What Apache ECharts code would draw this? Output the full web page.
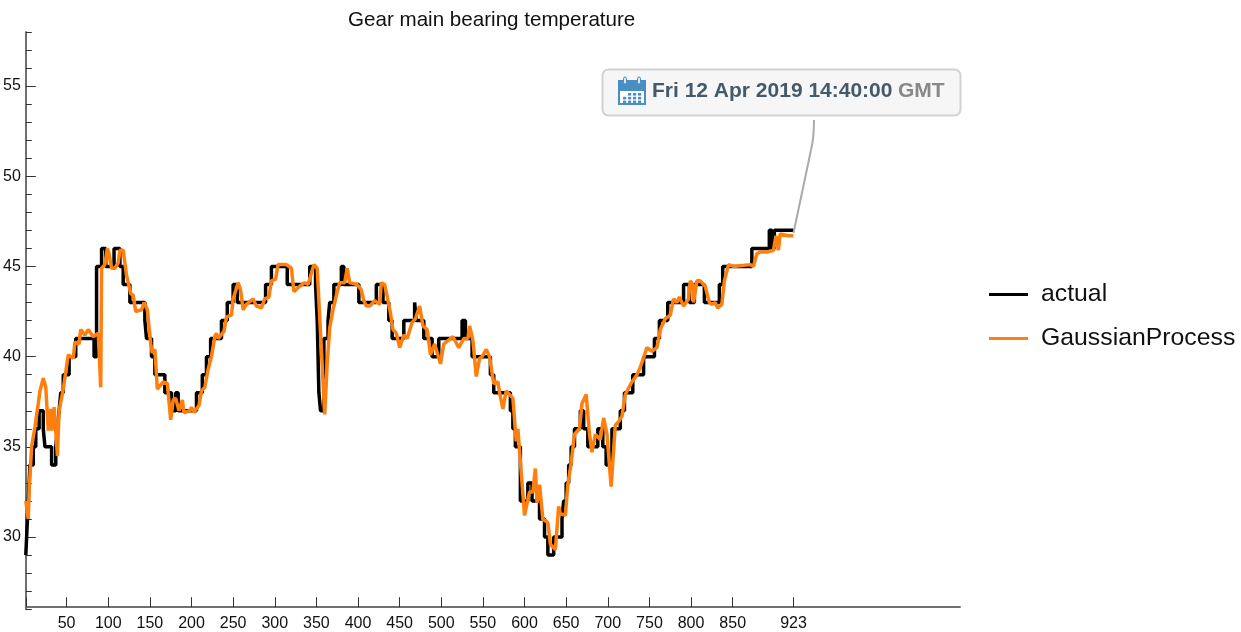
<!DOCTYPE html>
<html><head><meta charset="utf-8">
<style>html,body{margin:0;padding:0;background:#fff}#c{width:1241px;height:632px}</style>
<script src="https://cdn.jsdelivr.net/npm/echarts@6/dist/echarts.min.js"></script>
</head><body><div id="c"></div>
<script>
const chartTitle = 'Gear main bearing temperature';
const xTickValues = [50,100,150,200,250,300,350,400,450,500,550,600,650,700,750,800,850,923];
const yTickValues = [30,35,40,45,50,55];
const yMinorValues = [26,27,28,29,31,32,33,34,36,37,38,39,41,42,43,44,46,47,48,49,51,52,53,54,56,57,58];

// actual: level start positions and levels (held until the next start)
const actualX = [1,3,4,6,10,13,17,22,24,32,37,39,41,43,46,53,61,83,86,92,97,107,114,118,126,144,146,152,156,168,176,181,184,206,213,218,223,236,243,250,255,289,296,315,342,349,351,353,355,359,364,366,371,380,383,401,422,430,437,441,455,468,470,479,489,497,525,529,537,559,563,583,586,589,595,604,609,618,624,628,635,645,647,650,653,656,660,667,671,676,688,694,698,705,715,720,730,743,756,762,772,791,798,804,816,834,838,873,894,897,900,923];
const actualY = [29,31,32,34,35,36,37,36,35,34,35,36,37,38,39,40,41,40,45,46,45,46,45,44,43,42,41,40,39,38,37,38,37,38,39,40,41,42,43,44,43,44,45,44,45,44,42,38,37,41,42,43,44,45,44,43,44,43,42,41,42,43,42,41,40,41,42,41,40,39,38,37,36,35,32,33,32,31,30,29,30,31,32,33,34,35,36,37,36,35,36,35,34,36,37,38,39,40,41,42,43,44,43,44,43,44,45,46,47,46,47,47];

// GaussianProcess
const gaussianX = [1,4,5,8,12,16,18,20,22,25,28,31,32.4,35,39,41,46,52,58,60,65,67,72,76,82,88,91,92,96,99,101,104,108,112,114,118,122,127,130,133,140,143,147,151,153,156,159,166,171,175,178,181,185,189,191,198,200,203,209,212,216,220,224,228,230,232,239,242,248,250,256,259,262,266,274,278,284,288,293,296,301,304,314,320,323,330,336,340,347,351,354,360,363,366,370,374,378,384,387,390,399,404,407,410,414,420,426,428,432,436,439,442,446,450,455,459,465,469,474,478,483,487,492,499,503,511,514,521,527,532,534,538,542,546,549,554,558,563,568,570,574,578,586,590,592,600,606,610,613,615,618,622,624,628,631,637,641,643,645,649,652,656,660,666,669,674,678,681,685,691,695,699,704,709,713,717,721,729,735,739,747,753,759,763,769,775,779,783,786,791,797,799,802,803,807,811,817,822,825,829,832,837,840,845,851,871,875,879,883,891,899,902,905,907,917,923];
const gaussianY = [32,31,32.6,35,36.1,37.4,38.1,38.2,38.8,38.3,35.9,37.1,35.9,37.2,34.5,37,38.2,40.1,39.9,40.8,40.7,41.5,41.2,41.5,41.1,41.3,38.3,44.9,45.1,46,45.7,44.9,44.9,45.2,45.9,45.9,44.5,43.5,43.4,42.5,42.6,43,42.6,40.7,40.2,40.4,38.2,38.6,38.5,36.5,37.6,37.7,37,37.6,36.9,37,37.2,36.9,37.3,38.1,38.3,39.3,40,41.1,41.3,41,41.4,42.2,42.3,43.2,44.1,43.7,42.6,42.9,43.2,42.8,42.7,43.2,43.3,44.2,44.3,45.1,45.1,44.9,43.6,43.9,44.1,44,45.1,44.9,42.2,36.8,39.6,41.6,42.6,43.4,44.1,44.1,44.9,44.1,44,43.7,43.1,42.8,42.8,43.1,42.9,44.1,44,43.1,42.4,41.5,41.3,40.5,41.2,41,41.9,42.1,42.8,41.7,41.5,40.1,40.7,39.6,40.7,41,41.1,40.5,41,41,41.7,40.9,38.9,39.9,40,40.4,40,38.5,38.6,38,37.1,38.1,37.7,35.3,36,31.2,32.5,32.5,33.8,31.9,32.9,31,31,30.8,29.6,29.3,31.7,31.3,31.4,31.2,32.9,34.1,35.7,36,37.4,37.9,35.7,34.7,35.7,35.4,36.6,35.7,32.8,36.2,36.4,36.7,37.9,38.6,39,39.4,40.5,40.3,40.5,41.5,42.1,42.3,43.2,43,43.3,42.8,43.2,44.2,44,43,44.2,44.2,43.9,43,42.9,43,42.7,42.9,44.2,45.1,45,45.1,45,45.7,45.8,45.8,45.9,46.7,45.9,46.8,46.7,46.7];

const zip = (a, b) => a.map((v, i) => [v, b[i]]);
const FONT = '"Liberation Sans", Arial, sans-serif';

// calendar icon cells
const iconCells = [];
for (let r = 0; r < 3; r++) for (let c = 0; c < 4; c++) {
  if (r === 0 && c === 0) continue;
  iconCells.push({type:'rect', shape:{x:623+c*5, y:93+r*3.8, width:3.2, height:2.6}, style:{fill:'#4a8fc4'}, z:12});
}

const chart = echarts.init(document.getElementById('c'), null, {renderer:'canvas'});
chart.setOption({
  animation:false,
  backgroundColor:'#fff',
  title:{text:chartTitle, left:343, top:5, textStyle:{fontFamily:FONT, fontSize:20.6, fontWeight:'normal', color:'#111'}},
  legend:{
    orient:'vertical', left:984, top:277, itemWidth:39, itemHeight:3, itemGap:19, icon:'rect',
    textStyle:{fontFamily:FONT, fontSize:24.8, color:'#111', padding:[0,0,0,8]},
    data:['actual','GaussianProcess']
  },
  grid:{left:25.7, top:31.9, width:934.3, height:577.3, containLabel:false},
  xAxis:{
    type:'value', min:1, max:1123, offset:-2,
    axisLine:{show:true, lineStyle:{color:'#707070', width:2}},
    axisTick:{show:true, inside:true, length:10, customValues:[1].concat(xTickValues), lineStyle:{color:'#333', width:1}},
    axisLabel:{show:true, customValues:xTickValues, margin:8, fontFamily:FONT, fontSize:16, color:'#111', hideOverlap:false, showMinLabel:true, showMaxLabel:true},
    splitLine:{show:false}
  },
  yAxis:[{
    type:'value', min:26, max:58,
    axisLine:{show:true, lineStyle:{color:'#707070', width:2}},
    axisTick:{show:true, inside:true, length:10, customValues:yTickValues, lineStyle:{color:'#333', width:1}},
    axisLabel:{show:true, customValues:yTickValues, margin:5, fontFamily:FONT, fontSize:16, color:'#111'},
    splitLine:{show:false}
  },{
    type:'value', min:26, max:58, position:'left',
    axisLine:{show:false},
    axisTick:{show:true, inside:true, length:6, customValues:yMinorValues, lineStyle:{color:'#333', width:1}},
    axisLabel:{show:false},
    splitLine:{show:false}
  }],
  series:[
    {name:'actual', type:'line', step:'end', data:zip(actualX, actualY), showSymbol:false, symbol:'none',
     lineStyle:{color:'#000', width:3.5}, itemStyle:{color:'#000'}, z:3},
    {name:'GaussianProcess', type:'line', data:zip(gaussianX, gaussianY), showSymbol:false, symbol:'none',
     lineStyle:{color:'#ff7f0e', width:3.5}, itemStyle:{color:'#ff7f0e'}, z:4}
  ],
  graphic:[
    {type:'bezierCurve', z:9, shape:{x1:814, y1:120, cpx1:814, cpy1:135, cpx2:813, cpy2:142, x2:811, y2:150}, style:{fill:'none', stroke:'#aaaaaa', lineWidth:2}},
    {type:'line', z:9, shape:{x1:811, y1:150, x2:793.5, y2:233}, style:{stroke:'#aaaaaa', lineWidth:2}},
    {type:'rect', z:10, shape:{x:602.5, y:69.5, width:358, height:46, r:6}, style:{fill:'#f6f6f6', stroke:'#d2d2d2', lineWidth:2}},
    {type:'rect', z:11, shape:{x:618, y:80, width:28, height:25}, style:{fill:'#4a8fc4'}},
    {type:'rect', z:11, shape:{x:620, y:91, width:24, height:12}, style:{fill:'#ffffff'}},
    {type:'rect', z:12, shape:{x:623.5, y:77, width:3, height:7, r:1.5}, style:{fill:'#dfe9f2', stroke:'#4a8fc4', lineWidth:1}},
    {type:'rect', z:12, shape:{x:637.5, y:77, width:3, height:7, r:1.5}, style:{fill:'#dfe9f2', stroke:'#4a8fc4', lineWidth:1}},
    ...iconCells,
    {type:'text', z:12, x:652, y:91, style:{text:'Fri 12 Apr 2019 14:40:00', font:'bold 21px '+FONT, fill:'#44596a', textVerticalAlign:'middle'}},
    {type:'text', z:12, x:898, y:91, style:{text:'GMT', font:'bold 21px '+FONT, fill:'#888888', textVerticalAlign:'middle'}}
  ]
});
</script></body></html>
